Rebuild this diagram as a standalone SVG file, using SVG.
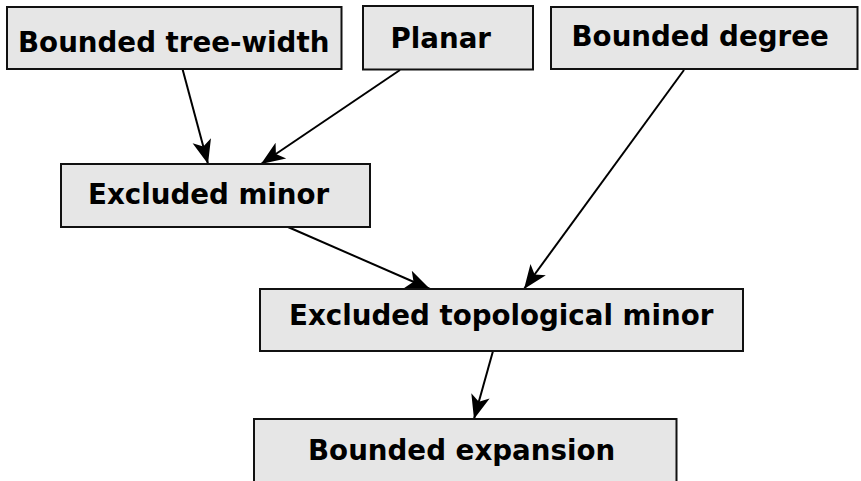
<svg xmlns="http://www.w3.org/2000/svg" width="861" height="481" viewBox="0 0 861 481">
<style>
.box{fill:#e6e6e6;stroke:#111;stroke-width:2}
.lbl{font-family:"DejaVu Sans",sans-serif;font-weight:bold;font-size:27.7px;fill:#000}
.edge{stroke:#000;stroke-width:2;fill:none;marker-end:url(#ah)}
</style>
<defs>
<marker id="ah" markerUnits="userSpaceOnUse" markerWidth="26" markerHeight="22" viewBox="-24 -11 26 22" refX="0" refY="0" orient="auto">
<path d="M0,0 L-24,-9.5 L-18,0 L-24,9.5 Z" fill="#000"/>
</marker>
</defs>
<rect width="861" height="481" fill="#fff"/>
<g id="connectors">
<line class="edge" x1="182.5" y1="69" x2="208" y2="164"/>
<line class="edge" x1="400" y1="70" x2="261" y2="164"/>
<line class="edge" x1="288" y1="227" x2="430" y2="289"/>
<line class="edge" x1="684" y1="70" x2="524" y2="289"/>
<line class="edge" x1="493" y1="351" x2="474" y2="419"/>
</g>
<g id="n-treewidth"><rect class="box" x="7" y="7" width="334.5" height="62"/><text class="lbl" x="18" y="51.5">Bounded tree-width</text></g>
<g id="n-planar"><rect class="box" x="363" y="6" width="170" height="63.5"/><text class="lbl" x="390.5" y="48">Planar</text></g>
<g id="n-degree"><rect class="box" x="551" y="7" width="306.5" height="62"/><text class="lbl" x="571.5" y="46">Bounded degree</text></g>
<g id="n-minor"><rect class="box" x="61" y="164" width="309" height="63"/><text class="lbl" x="88" y="204">Excluded minor</text></g>
<g id="n-topminor"><rect class="box" x="260" y="289" width="483" height="62"/><text class="lbl" x="289" y="325">Excluded topological minor</text></g>
<g id="n-expansion"><rect class="box" x="254" y="419" width="422.5" height="63"/><text class="lbl" x="308" y="460">Bounded expansion</text></g>
</svg>
